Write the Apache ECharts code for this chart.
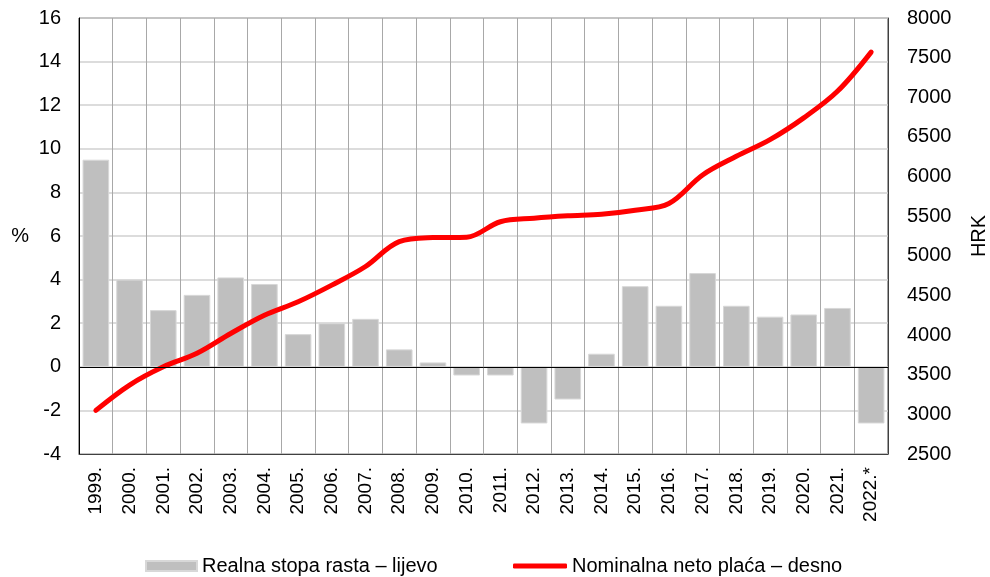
<!DOCTYPE html>
<html>
<head>
<meta charset="utf-8">
<script src="https://cdn.jsdelivr.net/npm/echarts@6/dist/echarts.min.js"></script>
<style>
  html, body { margin: 0; padding: 0; background: #fff; }
  #chart { width: 990px; height: 577px; }
</style>
</head>
<body>
<div id="chart"></div>
<script>
// godine
const years = ['1999.', '2000.', '2001.', '2002.', '2003.', '2004.', '2005.', '2006.',
  '2007.', '2008.', '2009.', '2010.', '2011.', '2012.', '2013.', '2014.', '2015.',
  '2016.', '2017.', '2018.', '2019.', '2020.', '2021.', '2022.*'];

// realna stopa rasta (%) - lijeva os
const realGrowth = [9.5, 4.0, 2.6, 3.3, 4.1, 3.8, 1.5, 2.0, 2.2, 0.8, 0.2, -0.4,
  -0.4, -2.6, -1.5, 0.6, 3.7, 2.8, 4.3, 2.8, 2.3, 2.4, 2.7, -2.6];

// nominalna neto placa (HRK) - desna os
const nominalWage = [3050, 3370, 3600, 3770, 4020, 4250, 4420, 4630, 4865, 5180,
  5230, 5235, 5430, 5475, 5505, 5525, 5575, 5660, 6020, 6255, 6465, 6740, 7075, 7570];

const leftTicks = { min: -4, max: 16, interval: 2 };
const rightTicks = { min: 2500, max: 8000, interval: 500 };

const barName = 'Realna stopa rasta – lijevo';
const lineName = 'Nominalna neto plaća – desno';

const FONT = 'Liberation Sans, Arial, sans-serif';

const chart = echarts.init(document.getElementById('chart'));

const option = {
  animation: false,
  textStyle: { fontFamily: FONT, color: '#000' },
  grid: {
    left: 79,
    right: 102,
    top: 18,
    bottom: 123,
    outerBoundsMode: 'none',
    containLabel: false,
    show: true,
    borderColor: '#404040',
    borderWidth: 1
  },
  legend: [
    {
      left: 140,
      top: 551,
      itemWidth: 51,
      itemHeight: 10,
      icon: 'rect',
      textStyle: { fontFamily: FONT, fontSize: 20, color: '#000' },
      data: [barName]
    },
    {
      left: 508,
      top: 551,
      itemWidth: 54,
      itemHeight: 5,
      icon: 'roundRect',
      textStyle: { fontFamily: FONT, fontSize: 20, color: '#000' },
      data: [lineName]
    }
  ],
  xAxis: {
    type: 'category',
    data: years,
    boundaryGap: true,
    axisLine: { onZero: false, lineStyle: { color: '#404040' } },
    axisTick: { show: false },
    axisLabel: {
      rotate: 90,
      margin: 13,
      fontSize: 19,
      color: '#000',
      fontFamily: FONT,
      interval: 0
    },
    splitLine: { show: true, interval: 0, lineStyle: { color: '#a8a8a8', width: 1 } }
  },
  yAxis: [
    {
      type: 'value',
      min: leftTicks.min,
      max: leftTicks.max,
      interval: leftTicks.interval,
      name: '%',
      nameLocation: 'middle',
      nameRotate: 0,
      nameGap: 50,
      nameTextStyle: { fontSize: 20, color: '#000', fontFamily: FONT },
      axisLine: { show: true, lineStyle: { color: '#000' } },
      axisTick: { show: false },
      axisLabel: { fontSize: 20, color: '#000', margin: 18, fontFamily: FONT },
      splitLine: { show: true, lineStyle: { color: '#d0d0d0', width: 1.5 } }
    },
    {
      type: 'value',
      min: rightTicks.min,
      max: rightTicks.max,
      interval: rightTicks.interval,
      position: 'right',
      name: 'HRK',
      nameLocation: 'middle',
      nameRotate: 90,
      nameGap: 81,
      nameTextStyle: { fontSize: 20, color: '#000', fontFamily: FONT },
      axisLine: { show: true, lineStyle: { color: '#404040' } },
      axisTick: { show: false },
      axisLabel: {
        fontSize: 20, color: '#000', margin: 19, fontFamily: FONT,
        formatter: function (v) { return String(v); }
      },
      splitLine: { show: false }
    }
  ],
  series: [
    {
      name: barName,
      type: 'bar',
      yAxisIndex: 0,
      data: realGrowth,
      barCategoryGap: '21%',
      itemStyle: { color: '#bfbfbf', borderColor: '#d8d8d8', borderWidth: 1 },
      markLine: {
        silent: true,
        symbol: 'none',
        label: { show: false },
        lineStyle: { color: '#000', width: 1, type: 'solid' },
        data: [{ yAxis: 0 }]
      }
    },
    {
      name: lineName,
      type: 'line',
      yAxisIndex: 1,
      data: nominalWage,
      smooth: 0.35,
      symbol: 'none',
      lineStyle: { color: '#ff0000', width: 5, cap: 'round' },
      itemStyle: { color: '#ff0000' }
    }
  ]
};

chart.setOption(option);
</script>
</body>
</html>
